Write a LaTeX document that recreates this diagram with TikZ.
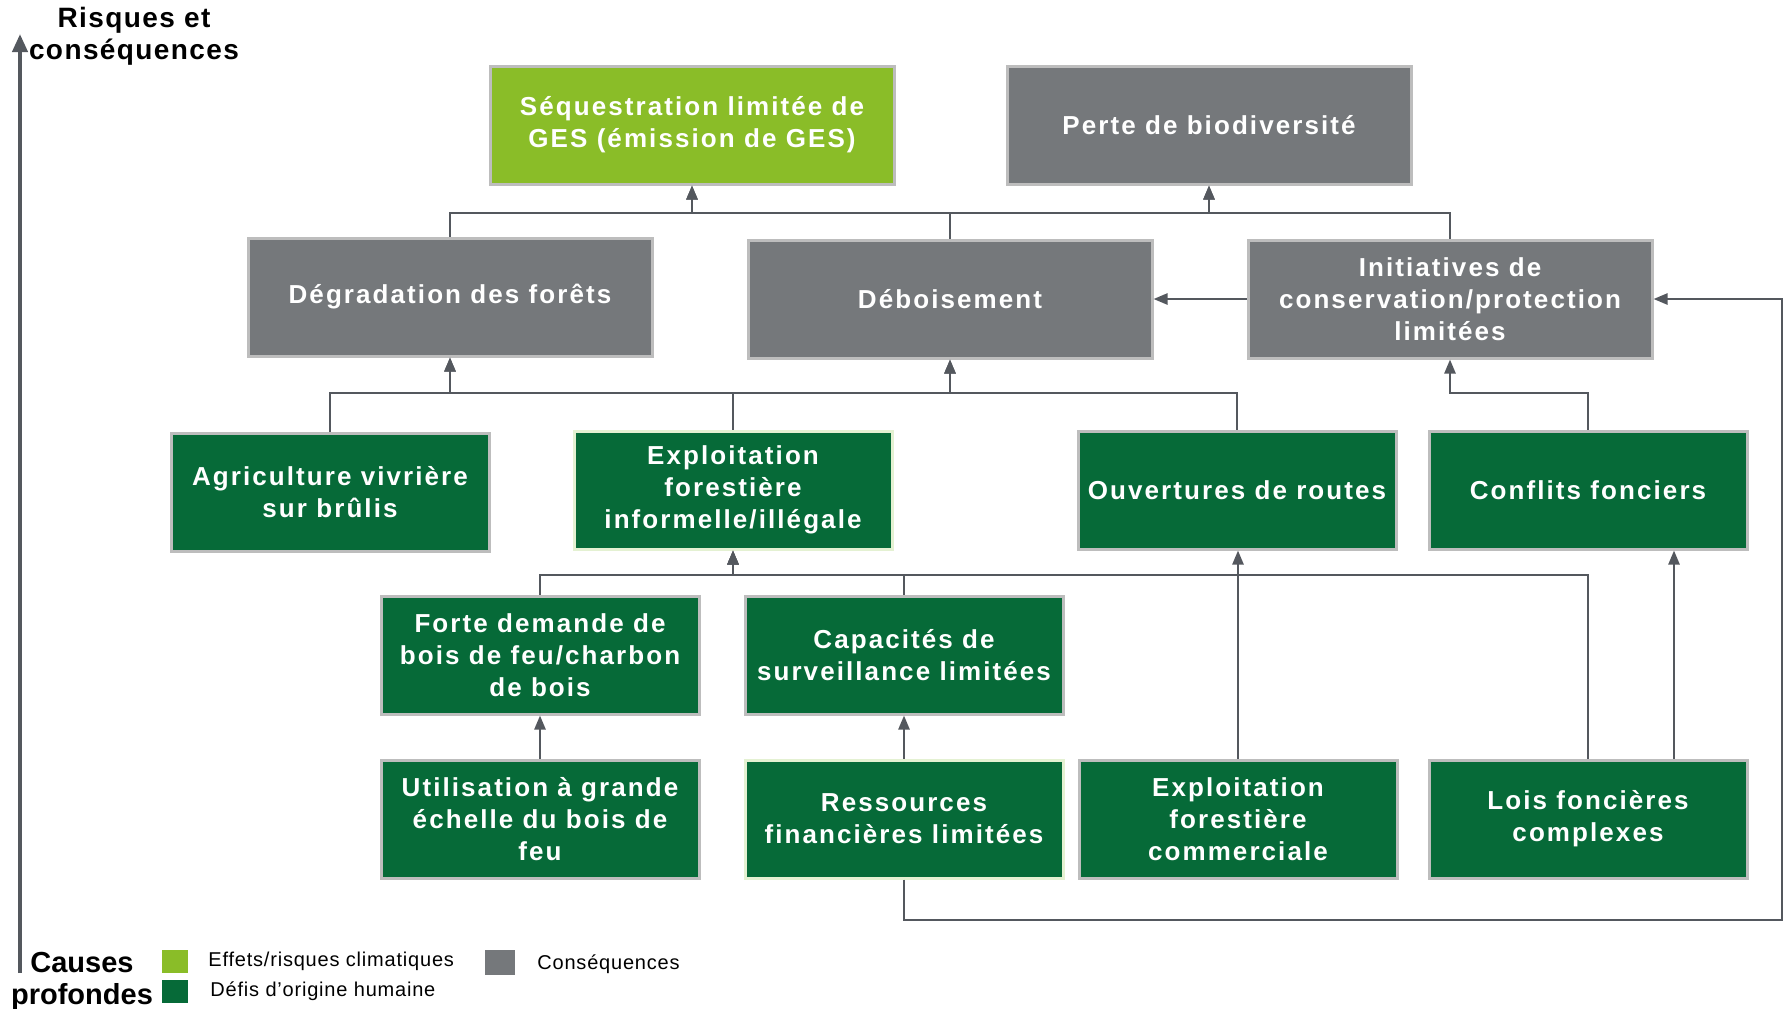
\documentclass[tikz,border=0pt]{standalone}
\usepackage{fontspec}
\setmainfont{Liberation Sans}
\newfontfamily\boxfont[LetterSpace=8]{Liberation Sans}
\newfontfamily\legfont[LetterSpace=4]{Liberation Sans}
\newfontfamily\headfont[LetterSpace=5]{Liberation Sans}
\usetikzlibrary{arrows.meta}
\definecolor{climgreen}{HTML}{8ABD28}
\definecolor{humangreen}{HTML}{066A38}
\definecolor{consgray}{HTML}{75787B}
\definecolor{boxline}{HTML}{BDBDBD}
\definecolor{paleline}{HTML}{E4F1D2}
\definecolor{linkgray}{HTML}{54585E}
\begin{document}
\begin{tikzpicture}[x=0.5pt, y=-0.5pt,
    box/.style={draw=boxline, line width=1.5pt, text=white, align=center, inner sep=1pt,
        minimum height=59pt, font=\boxfont\bfseries\fontsize{13}{16}\selectfont},
    wide/.style={box, minimum width=202pt},
    narrow/.style={box, minimum width=159pt},
    clim/.style={fill=climgreen},
    cons/.style={fill=consgray},
    human/.style={fill=humangreen},
    link/.style={draw=linkgray, line width=1.2pt, -{Triangle[length=7pt,width=5.5pt]}},
    legbox/.style={inner sep=0pt, minimum width=13pt, minimum height=11.5pt},
    legtext/.style={anchor=west, inner sep=0pt, font=\legfont\fontsize{10}{12}\selectfont}]
    \useasboundingbox (0,0) rectangle (1784,1008);

    \node[wide, clim] (seq) at (692,125) {Séquestration limitée de\\GES (émission de GES)};
    \node[wide, cons] (perte) at (1209,125) {Perte de biodiversité};

    \node[wide, cons] (degr) at (450,297) {Dégradation des forêts};
    \node[wide, cons] (debo) at (950,299) {Déboisement};
    \node[wide, cons] (init) at (1450,299) {Initiatives de\\conservation/protection\\limitées};

    \node[narrow, human] (agri) at (330,492) {Agriculture vivrière\\sur brûlis};
    \node[narrow, human, draw=paleline] (expinf) at (733,490) {Exploitation\\forestière\\informelle/illégale};
    \node[narrow, human] (routes) at (1237,490) {Ouvertures de routes};
    \node[narrow, human] (conflits) at (1588,490) {Conflits fonciers};

    \node[narrow, human] (forte) at (540,655) {Forte demande de\\bois de feu/charbon\\de bois};
    \node[narrow, human] (capa) at (904,655) {Capacités de\\surveillance limitées};

    \node[narrow, human] (util) at (540,819) {Utilisation à grande\\échelle du bois de\\feu};
    \node[narrow, human, draw=paleline] (ress) at (904,819) {Ressources\\financières limitées};
    \node[narrow, human] (expcom) at (1238,819) {Exploitation\\forestière\\commerciale};
    \node[narrow, human] (lois) at (1588,819) {Lois foncières\\complexes};

    \coordinate (bus1) at (0,213);
    \coordinate (bus2) at (0,393);
    \coordinate (bus3) at (0,575);
    \coordinate (loopcorner) at (1782,920);

    \draw[link] (degr.north) |- (seq.south |- bus1) -- (seq.south);
    \draw[link] (debo.north) |- (seq.south |- bus1) -- (seq.south);
    \draw[link] (debo.north) |- (perte.south |- bus1) -- (perte.south);
    \draw[link] (init.north) |- (perte.south |- bus1) -- (perte.south);

    \draw[link] (agri.north) |- (degr.south |- bus2) -- (degr.south);
    \draw[link] (expinf.north) |- (degr.south |- bus2) -- (degr.south);
    \draw[link] (expinf.north) |- (debo.south |- bus2) -- (debo.south);
    \draw[link] (routes.north) |- (debo.south |- bus2) -- (debo.south);
    \draw[link] (conflits.north) |- (init.south |- bus2) -- (init.south);
    \draw[link] (init.west) -- (debo.east);

    \draw[link] (forte.north) |- (expinf.south |- bus3) -- (expinf.south);
    \draw[link] (capa.north) |- (expinf.south |- bus3) -- (expinf.south);
    \draw[link] (lois.north) |- (expinf.south |- bus3) -- (expinf.south);
    \draw[link] (util.north) -- (forte.south);
    \draw[link] (ress.north) -- (capa.south);
    \draw[link] (expcom.north) -- (expcom.north |- routes.south);
    \draw[link] ([xshift=43pt]lois.north) -- ([xshift=43pt]lois.north |- conflits.south);
    \draw[link] (ress.south) |- (loopcorner) |- (init.east);

    \coordinate (axisbottom) at (20,973);
    \coordinate (axistop) at (20,34);
    \draw[draw=linkgray, line width=2pt, -{Triangle[length=9pt,width=7.5pt]}] (axisbottom) -- (axistop);
    \node[align=center, inner sep=0pt, font=\headfont\bfseries\fontsize{14}{16}\selectfont] (risques) at (134,36) {Risques et\\conséquences};
    \node[align=center, inner sep=0pt, font=\bfseries\fontsize{14.5}{16}\selectfont] (causes) at (82,981) {Causes\\profondes};

    \node[legbox, fill=climgreen] (legclim) at (175,961) {};
    \node[legbox, fill=humangreen] (leghuman) at (175,991) {};
    \node[legbox, fill=consgray, minimum width=15pt, minimum height=12.5pt] (legcons) at (500,962) {};
    \node[legtext] (txtclim) at (208,961) {Effets/risques climatiques};
    \node[legtext] (txthuman) at (210,991) {Défis d’origine humaine};
    \node[legtext] (txtcons) at (537,964) {Conséquences};
\end{tikzpicture}
\end{document}
